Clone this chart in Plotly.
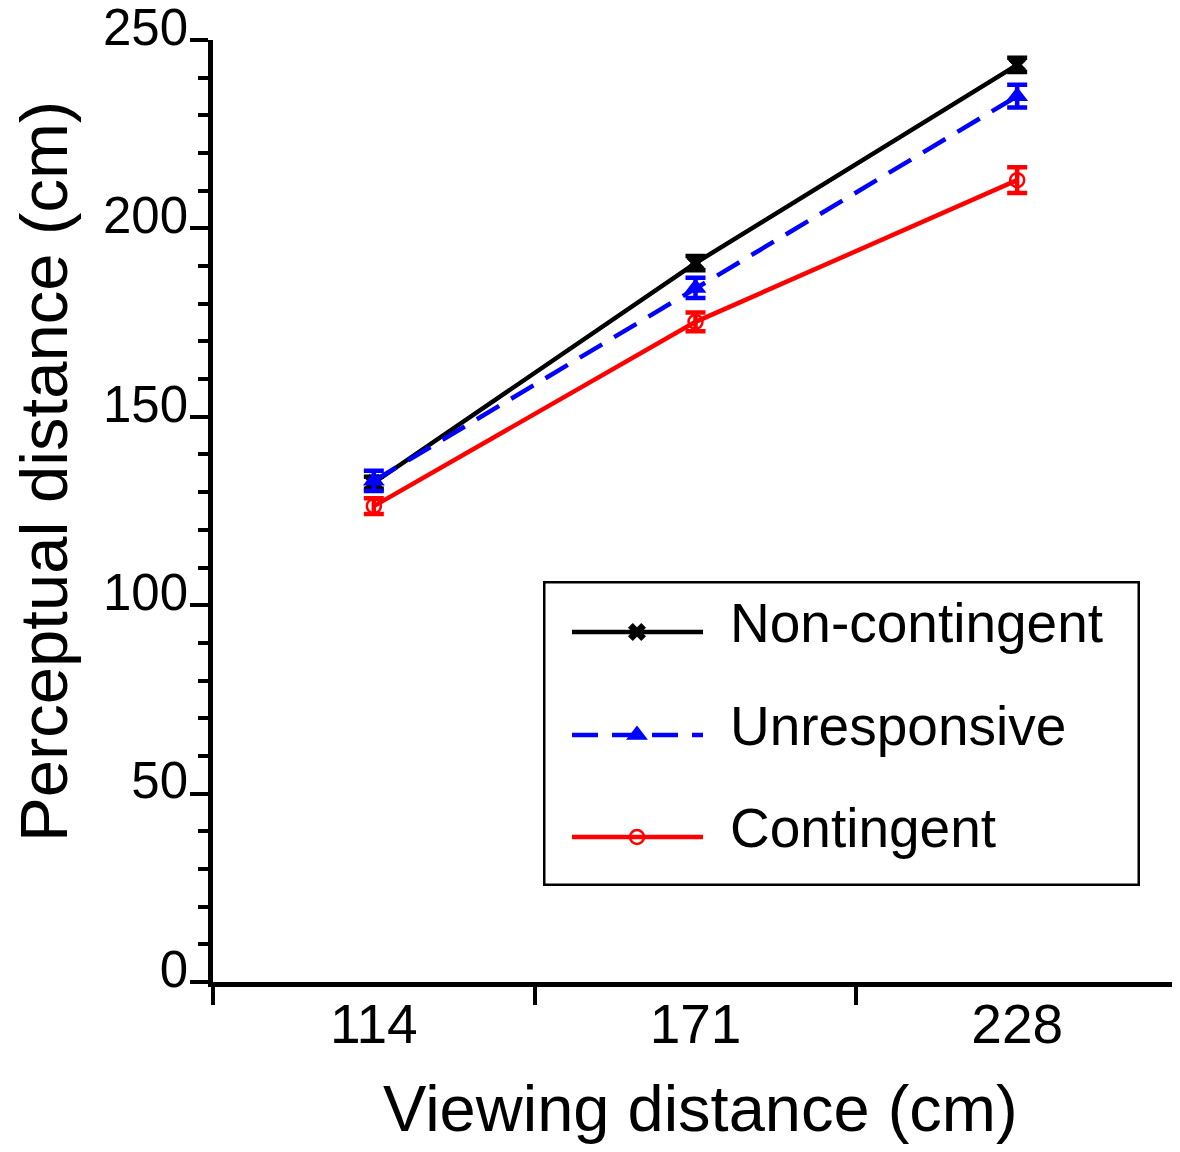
import plotly.graph_objects as go

# ---- data ----
viewing = ["114", "171", "228"]
non_contingent = [132.5, 190.8, 243.4]
non_contingent_err = [1.6, 1.9, 1.9]
unresponsive = [133.0, 184.2, 235.1]
unresponsive_err = [2.7, 2.7, 3.0]
contingent = [126.3, 175.2, 212.8]
contingent_err = [2.1, 2.5, 3.4]

series_names = ["Non-contingent", "Unresponsive", "Contingent"]
y_ticks = [0, 50, 100, 150, 200, 250]

FONT = "Liberation Sans"
BLACK, BLUE, RED = "#000000", "#0000ff", "#ff0000"
LW = 4.5

fig = go.Figure()

styles = [
    (non_contingent, non_contingent_err, BLACK, "solid", dict(symbol="x", size=15, color=BLACK, line=dict(width=1, color=BLACK))),
    (unresponsive, unresponsive_err, BLUE, "26px,14px", dict(symbol="triangle-up", size=19, color=BLUE, line=dict(width=0))),
    (contingent, contingent_err, RED, "solid", dict(symbol="circle-open", size=14, color=RED, line=dict(width=2.5, color=RED))),
]

for name, (vals, err, col, dash, mk) in zip(series_names, styles):
    fig.add_trace(go.Scatter(
        x=viewing, y=vals, name=name, mode="lines+markers",
        line=dict(color=col, width=LW, dash=dash),
        marker=mk,
        error_y=dict(type="data", array=err, visible=True, color=col, thickness=LW, width=10),
        showlegend=False, cliponaxis=False,
    ))

# page geometry (browser body has an 8px margin)
OFF = 8
W, H = 1172, 1136
L, R, T, B = 213 - OFF, 2, 40 - OFF, 1136 - (982 - OFF)
pw, ph = W - L - R, H - T - B

def px_to_paper_x(px):
    return (px - OFF - L) / pw

def px_to_paper_y(py):
    return (H - B - (py - OFF)) / ph

# ---- manual legend (decoration) on overlay axes in legend-box pixel units ----
LX0, LX1, LY0, LY1 = 543, 1140, 581, 886
row_y = [632, 735, 837]
for name, (vals, err, col, dash, mk), ry in zip(series_names, styles, row_y):
    fig.add_trace(go.Scatter(
        x=[572, 703], y=[ry, ry], mode="lines",
        line=dict(color=col, width=LW, dash=dash),
        xaxis="x2", yaxis="y2", showlegend=False, hoverinfo="skip",
    ))
    fig.add_trace(go.Scatter(
        x=[637], y=[ry], mode="markers", marker=mk,
        xaxis="x2", yaxis="y2", showlegend=False, hoverinfo="skip",
    ))
    fig.add_annotation(x=728, y=ry - 9, xref="x2", yref="y2", text=name,
                       showarrow=False, xanchor="left", yanchor="middle",
                       font=dict(family=FONT, size=55, color=BLACK))

fig.add_shape(type="rect", xref="x2", yref="y2", x0=LX0, x1=LX1, y0=LY0, y1=LY1,
              line=dict(color=BLACK, width=5), fillcolor="rgba(0,0,0,0)")

fig.update_layout(
    width=W, height=H,
    margin=dict(l=L, r=R, t=T, b=B, autoexpand=False),
    paper_bgcolor="white", plot_bgcolor="white",
    font=dict(family=FONT, color=BLACK),
    xaxis=dict(
        type="category", categoryorder="array", categoryarray=viewing,
        range=[-0.5, 2.5], tickson="boundaries", automargin=False,
        showline=True, linecolor=BLACK, linewidth=LW,
        ticks="outside", ticklen=18, tickwidth=4, tickcolor=BLACK,
        tickfont=dict(family=FONT, size=55, color=BLACK),
        ticklabelstandoff=-10,
        showgrid=False, zeroline=False, fixedrange=True,
    ),
    yaxis=dict(
        range=[0, 250], tickvals=y_ticks, automargin=False,
        showline=True, linecolor=BLACK, linewidth=LW,
        ticks="outside", ticklen=18, tickwidth=4, tickcolor=BLACK,
        tickfont=dict(family=FONT, size=51, color=BLACK),
        ticklabelshift=-13, ticklabelstandoff=-8, ticklabeloverflow="allow",
        minor=dict(dtick=10, ticks="outside", ticklen=10, tickwidth=4, tickcolor=BLACK, showgrid=False),
        showgrid=False, zeroline=False, fixedrange=True,
    ),
    xaxis2=dict(domain=[px_to_paper_x(LX0), px_to_paper_x(LX1)], range=[LX0, LX1],
                visible=False, anchor="y2", fixedrange=True, automargin=False),
    yaxis2=dict(domain=[px_to_paper_y(LY1), px_to_paper_y(LY0)], range=[LY1, LY0],
                visible=False, anchor="x2", fixedrange=True, automargin=False),
)

fig.add_annotation(text="Perceptual distance (cm)", xref="paper", yref="paper",
                   x=px_to_paper_x(43), y=px_to_paper_y(472), textangle=-90,
                   showarrow=False, xanchor="center", yanchor="middle",
                   font=dict(family=FONT, size=67, color=BLACK))
fig.add_annotation(text="Viewing distance (cm)", xref="paper", yref="paper",
                   x=px_to_paper_x(700), y=px_to_paper_y(1108),
                   showarrow=False, xanchor="center", yanchor="middle",
                   font=dict(family=FONT, size=65, color=BLACK))

fig.write_html("out.html")
